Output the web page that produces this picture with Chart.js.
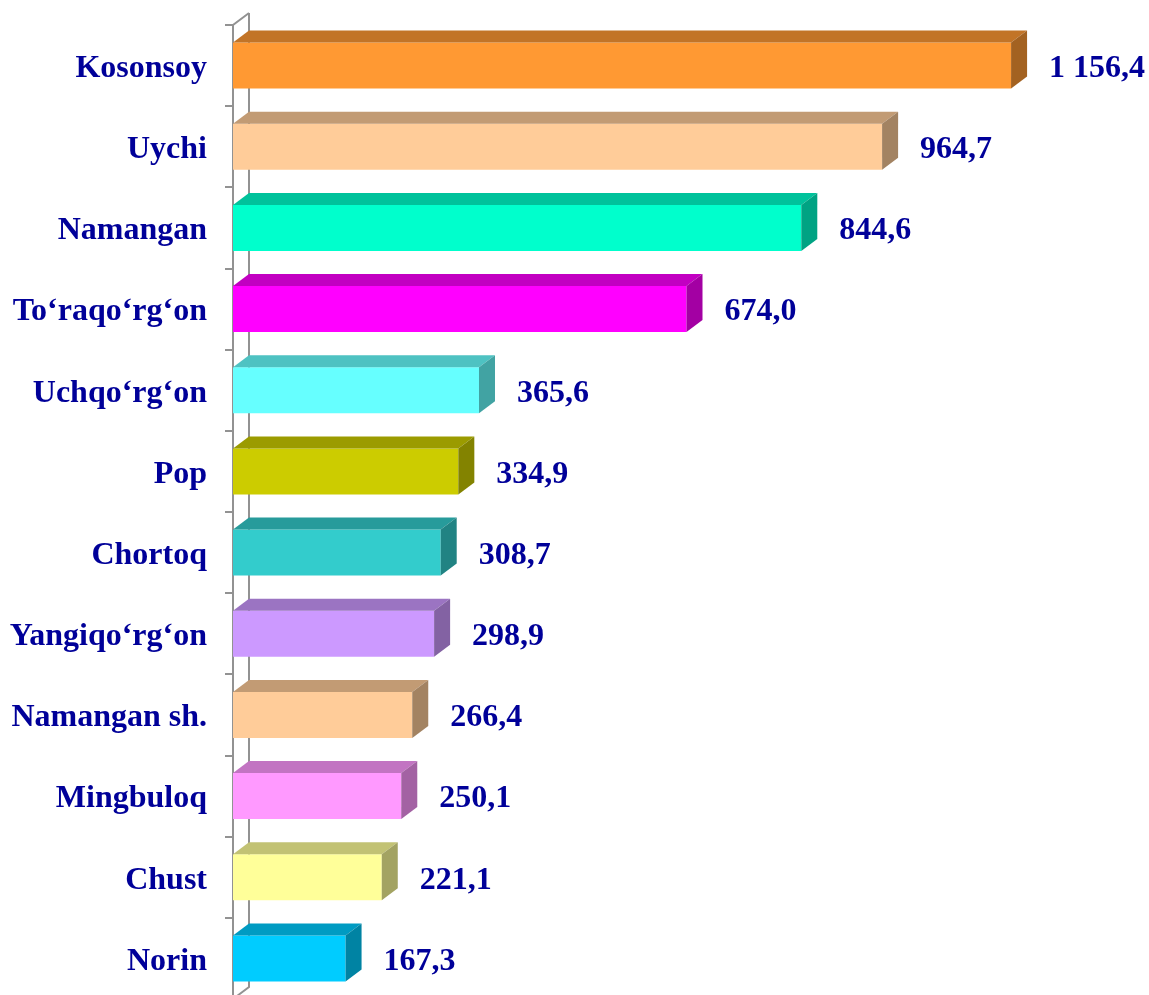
<!DOCTYPE html>
<html>
<head>
<meta charset="utf-8">
<script src="https://cdn.jsdelivr.net/npm/chart.js@4.4.1/dist/chart.umd.min.js"></script>
<style>
  html, body { margin: 0; padding: 0; background: #ffffff; overflow: hidden; }
  #wrap { width: 1149px; height: 1000px; }
</style>
</head>
<body>
<div id="wrap"><canvas id="c" width="1149" height="1000"></canvas></div>
<script>
// District names (top to bottom) and their values
const categories = [
  'Kosonsoy', 'Uychi', 'Namangan', 'To\u2018raqo\u2018rg\u2018on', 'Uchqo\u2018rg\u2018on', 'Pop',
  'Chortoq', 'Yangiqo\u2018rg\u2018on', 'Namangan sh.', 'Mingbuloq', 'Chust', 'Norin'
];
const values = [1156.4, 964.7, 844.6, 674.0, 365.6, 334.9, 308.7, 298.9, 266.4, 250.1, 221.1, 167.3];

// Front-face colour of each bar
const frontColors = [
  '#FF9933', '#FFCC99', '#00FFCC', '#FF00FF', '#66FFFF', '#CCCC00',
  '#33CCCC', '#CC99FF', '#FFCC99', '#FF99FF', '#FFFF99', '#00CCFF'
];

const xMax = 1348;
const DEPTH_X = 16, DEPTH_Y = -12;
const TEXT_COLOR = '#000099';
const FONT = 'bold 32px "Liberation Serif", "Times New Roman", serif';

function shade(hex, f) {
  const n = parseInt(hex.slice(1), 16);
  const r = Math.round(((n >> 16) & 255) * f);
  const g = Math.round(((n >> 8) & 255) * f);
  const b = Math.round((n & 255) * f);
  return `rgb(${r},${g},${b})`;
}

function formatValue(v) {
  const parts = v.toFixed(1).split('.');
  const intPart = parts[0].replace(/\B(?=(\d{3})+(?!\d))/g, ' ');
  return intPart + ',' + parts[1];
}

// Draws the side wall behind the bars, then the 3D faces and all labels
const box3d = {
  id: 'box3d',
  beforeDatasetsDraw(chart) {
    const { ctx, chartArea } = chart;
    const left = chartArea.left, top = chartArea.top, bottom = chartArea.bottom;
    const n = categories.length;
    const step = (bottom - top) / n;
    ctx.save();
    ctx.strokeStyle = '#929292';
    ctx.lineWidth = 2;
    ctx.beginPath();
    // back edge
    ctx.moveTo(left + DEPTH_X, top + DEPTH_Y);
    ctx.lineTo(left + DEPTH_X, bottom + DEPTH_Y);
    ctx.lineTo(left, bottom);
    // front edge
    ctx.moveTo(left, bottom);
    ctx.lineTo(left, top);
    ctx.lineTo(left + DEPTH_X, top + DEPTH_Y);
    // tick marks at category boundaries
    for (let i = 0; i <= n; i++) {
      const y = Math.round(top + i * step);
      ctx.moveTo(left - 8, y);
      ctx.lineTo(left, y);
    }
    ctx.stroke();
    ctx.restore();
  },
  afterDatasetsDraw(chart) {
    const { ctx, chartArea } = chart;
    const yScale = chart.scales.y;
    const meta = chart.getDatasetMeta(0);
    ctx.save();
    meta.data.forEach((bar, i) => {
      const p = bar.getProps(['x', 'y', 'base', 'height'], true);
      const x0 = p.base, x1 = p.x;
      const yTop = p.y - p.height / 2, yBot = p.y + p.height / 2;
      const c = frontColors[i];
      // top face
      ctx.fillStyle = shade(c, 0.76);
      ctx.beginPath();
      ctx.moveTo(x0, yTop);
      ctx.lineTo(x0 + DEPTH_X, yTop + DEPTH_Y);
      ctx.lineTo(x1 + DEPTH_X, yTop + DEPTH_Y);
      ctx.lineTo(x1, yTop);
      ctx.closePath();
      ctx.fill();
      // side face
      ctx.fillStyle = shade(c, 0.64);
      ctx.beginPath();
      ctx.moveTo(x1, yTop);
      ctx.lineTo(x1 + DEPTH_X, yTop + DEPTH_Y);
      ctx.lineTo(x1 + DEPTH_X, yBot + DEPTH_Y);
      ctx.lineTo(x1, yBot);
      ctx.closePath();
      ctx.fill();
      // value label
      ctx.fillStyle = TEXT_COLOR;
      ctx.font = FONT;
      ctx.textBaseline = 'middle';
      ctx.textAlign = 'left';
      ctx.fillText(formatValue(values[i]), x1 + 38, p.y + 3);
    });
    // category labels
    categories.forEach((name, i) => {
      const y = yScale.getPixelForValue(i);
      ctx.fillStyle = TEXT_COLOR;
      ctx.font = FONT;
      ctx.textBaseline = 'middle';
      ctx.textAlign = 'right';
      ctx.fillText(name, chartArea.left - 26, y + 3);
    });
    ctx.restore();
  }
};

new Chart(document.getElementById('c'), {
  type: 'bar',
  data: {
    labels: categories,
    datasets: [{
      data: values,
      backgroundColor: frontColors,
      borderWidth: 0,
      categoryPercentage: 1,
      barPercentage: 0.567
    }]
  },
  options: {
    indexAxis: 'y',
    responsive: false,
    animation: false,
    devicePixelRatio: 1,
    layout: { padding: { left: 233, right: 9, top: 25, bottom: 1 } },
    plugins: { legend: { display: false }, tooltip: { enabled: false } },
    scales: {
      x: { display: false, min: 0, max: xMax },
      y: { display: false }
    }
  },
  plugins: [box3d]
});
</script>
</body>
</html>
